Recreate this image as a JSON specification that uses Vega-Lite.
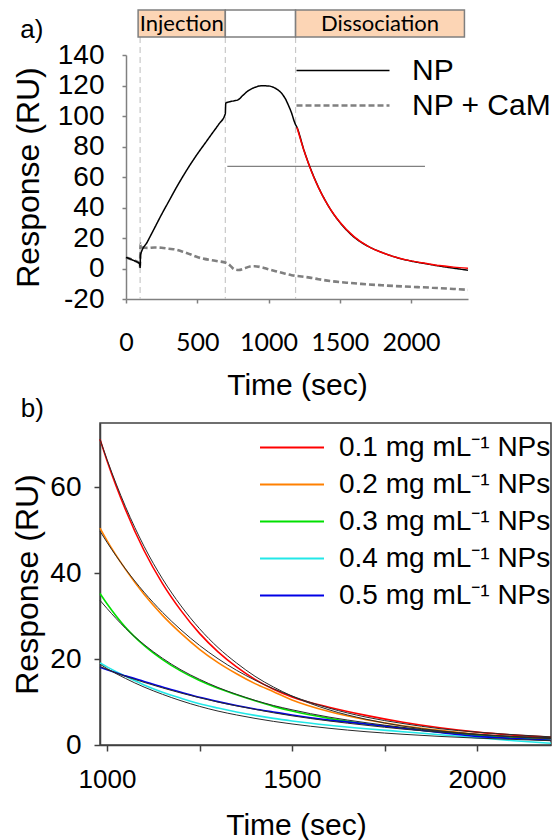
{
  "$schema": "https://vega.github.io/schema/vega-lite/v6.json",
  "background": "white",
  "padding": {"left": 11, "top": 9, "right": 0, "bottom": 0},
  "config": {
    "font": "Liberation Sans",
    "view": {"stroke": null},
    "axis": {"grid": false, "labelColor": "#000000", "titleColor": "#000000", "titleFontWeight": "normal", "labelFont": "Liberation Sans", "titleFont": "Liberation Sans", "labelOverlap": false, "labelFlush": false},
    "legend": {"labelFont": "Liberation Sans", "labelColor": "#000000", "padding": 0, "labelLimit": 0}
  },
  "datasets": {
    "phases": [
      {"label": "Injection", "start": 85, "end": 697},
      {"label": "", "start": 697, "end": 1190},
      {"label": "Dissociation", "start": 1190, "end": 2375}
    ],
    "events": [{"t": 99}, {"t": 697}, {"t": 1190}],
    "baseline": [{"t1": 711, "t2": 2098, "v": 67}],
    "sensor": [
      {"s": "NP + CaM", "t": 0, "v": 7.2}, {"s": "NP + CaM", "t": 50, "v": 5.5}, {"s": "NP + CaM", "t": 95, "v": 3.3}, {"s": "NP + CaM", "t": 98, "v": 1},
      {"s": "NP + CaM", "t": 102, "v": 16.3}, {"s": "NP + CaM", "t": 115, "v": 14}, {"s": "NP + CaM", "t": 150, "v": 13.5}, {"s": "NP + CaM", "t": 200, "v": 13.8},
      {"s": "NP + CaM", "t": 250, "v": 13.6}, {"s": "NP + CaM", "t": 300, "v": 13}, {"s": "NP + CaM", "t": 350, "v": 12.4}, {"s": "NP + CaM", "t": 400, "v": 11},
      {"s": "NP + CaM", "t": 450, "v": 9.3}, {"s": "NP + CaM", "t": 500, "v": 7.5}, {"s": "NP + CaM", "t": 550, "v": 6.3}, {"s": "NP + CaM", "t": 600, "v": 5.5},
      {"s": "NP + CaM", "t": 650, "v": 4.7}, {"s": "NP + CaM", "t": 700, "v": 3.8}, {"s": "NP + CaM", "t": 730, "v": 2}, {"s": "NP + CaM", "t": 760, "v": -0.5},
      {"s": "NP + CaM", "t": 790, "v": -1}, {"s": "NP + CaM", "t": 830, "v": 0}, {"s": "NP + CaM", "t": 870, "v": 1.3}, {"s": "NP + CaM", "t": 903, "v": 1.5},
      {"s": "NP + CaM", "t": 950, "v": 0.8}, {"s": "NP + CaM", "t": 1000, "v": -0.5}, {"s": "NP + CaM", "t": 1050, "v": -1.8}, {"s": "NP + CaM", "t": 1100, "v": -3},
      {"s": "NP + CaM", "t": 1162, "v": -4.4}, {"s": "NP + CaM", "t": 1230, "v": -5.2}, {"s": "NP + CaM", "t": 1290, "v": -6}, {"s": "NP + CaM", "t": 1350, "v": -7},
      {"s": "NP + CaM", "t": 1443, "v": -8.3}, {"s": "NP + CaM", "t": 1550, "v": -9.3}, {"s": "NP + CaM", "t": 1650, "v": -10.1}, {"s": "NP + CaM", "t": 1795, "v": -11},
      {"s": "NP + CaM", "t": 1950, "v": -11.8}, {"s": "NP + CaM", "t": 2147, "v": -12.6}, {"s": "NP + CaM", "t": 2300, "v": -13.4}, {"s": "NP + CaM", "t": 2400, "v": -14},
      {"s": "NP", "t": 0, "v": 7.3}, {"s": "NP", "t": 50, "v": 5.4}, {"s": "NP", "t": 95, "v": 3.2}, {"s": "NP", "t": 99, "v": 0.8},
      {"s": "NP", "t": 102, "v": 9}, {"s": "NP", "t": 150, "v": 17.5}, {"s": "NP", "t": 200, "v": 26.5}, {"s": "NP", "t": 250, "v": 35.5},
      {"s": "NP", "t": 300, "v": 44}, {"s": "NP", "t": 350, "v": 52.5}, {"s": "NP", "t": 400, "v": 60.5}, {"s": "NP", "t": 450, "v": 68},
      {"s": "NP", "t": 500, "v": 75}, {"s": "NP", "t": 550, "v": 81.5}, {"s": "NP", "t": 600, "v": 88}, {"s": "NP", "t": 650, "v": 94.5},
      {"s": "NP", "t": 697, "v": 101.5}, {"s": "NP", "t": 700, "v": 108.5}, {"s": "NP", "t": 730, "v": 109.4}, {"s": "NP", "t": 760, "v": 110},
      {"s": "NP", "t": 786, "v": 110.6}, {"s": "NP", "t": 820, "v": 113.5}, {"s": "NP", "t": 857, "v": 116.5}, {"s": "NP", "t": 900, "v": 118.6},
      {"s": "NP", "t": 950, "v": 119.8}, {"s": "NP", "t": 1000, "v": 119.7}, {"s": "NP", "t": 1030, "v": 119}, {"s": "NP", "t": 1060, "v": 117.5},
      {"s": "NP", "t": 1091, "v": 115}, {"s": "NP", "t": 1120, "v": 111}, {"s": "NP", "t": 1140, "v": 107}, {"s": "NP", "t": 1160, "v": 102.5},
      {"s": "NP", "t": 1185, "v": 95.4}, {"s": "NP", "t": 1200, "v": 92.5}, {"s": "NP", "t": 1250, "v": 77.2}, {"s": "NP", "t": 1300, "v": 64.3},
      {"s": "NP", "t": 1350, "v": 53.4}, {"s": "NP", "t": 1400, "v": 44.3}, {"s": "NP", "t": 1450, "v": 36.6}, {"s": "NP", "t": 1500, "v": 30.3},
      {"s": "NP", "t": 1600, "v": 20.6}, {"s": "NP", "t": 1700, "v": 14.5}, {"s": "NP", "t": 1800, "v": 10.4}, {"s": "NP", "t": 1900, "v": 7.2},
      {"s": "NP", "t": 2000, "v": 4.9}, {"s": "NP", "t": 2100, "v": 3.2}, {"s": "NP", "t": 2200, "v": 1.6}, {"s": "NP", "t": 2300, "v": 0.2},
      {"s": "NP", "t": 2400, "v": -1.1}
    ],
    "npfit": [
      {"t": 1200, "v": 92.5}, {"t": 1250, "v": 77.0}, {"t": 1300, "v": 64.0}, {"t": 1350, "v": 53.2}, {"t": 1400, "v": 44.2},
      {"t": 1450, "v": 36.7}, {"t": 1500, "v": 30.5}, {"t": 1600, "v": 20.9}, {"t": 1700, "v": 14.5}, {"t": 1800, "v": 10.3},
      {"t": 1900, "v": 7.2}, {"t": 2000, "v": 5.0}, {"t": 2100, "v": 3.4}, {"t": 2200, "v": 1.9}, {"t": 2300, "v": 0.9}, {"t": 2400, "v": 0.1}
    ],
    "decay": [
      {"conc": "0.1 mg mL⁻¹ NPs", "t": 981, "v": 71.2}, {"conc": "0.1 mg mL⁻¹ NPs", "t": 1000, "v": 66.2}, {"conc": "0.1 mg mL⁻¹ NPs", "t": 1050, "v": 54.8}, {"conc": "0.1 mg mL⁻¹ NPs", "t": 1100, "v": 45.3},
      {"conc": "0.1 mg mL⁻¹ NPs", "t": 1150, "v": 37.6}, {"conc": "0.1 mg mL⁻¹ NPs", "t": 1200, "v": 31.3}, {"conc": "0.1 mg mL⁻¹ NPs", "t": 1250, "v": 26.0}, {"conc": "0.1 mg mL⁻¹ NPs", "t": 1300, "v": 21.7},
      {"conc": "0.1 mg mL⁻¹ NPs", "t": 1350, "v": 18.2}, {"conc": "0.1 mg mL⁻¹ NPs", "t": 1400, "v": 15.3}, {"conc": "0.1 mg mL⁻¹ NPs", "t": 1450, "v": 13.0}, {"conc": "0.1 mg mL⁻¹ NPs", "t": 1500, "v": 11.2},
      {"conc": "0.1 mg mL⁻¹ NPs", "t": 1600, "v": 8.8}, {"conc": "0.1 mg mL⁻¹ NPs", "t": 1700, "v": 6.9}, {"conc": "0.1 mg mL⁻¹ NPs", "t": 1800, "v": 5.3}, {"conc": "0.1 mg mL⁻¹ NPs", "t": 1900, "v": 4.0},
      {"conc": "0.1 mg mL⁻¹ NPs", "t": 2000, "v": 3.0}, {"conc": "0.1 mg mL⁻¹ NPs", "t": 2100, "v": 2.3}, {"conc": "0.1 mg mL⁻¹ NPs", "t": 2200, "v": 1.8},
      {"conc": "0.2 mg mL⁻¹ NPs", "t": 981, "v": 50.5}, {"conc": "0.2 mg mL⁻¹ NPs", "t": 1000, "v": 47.6}, {"conc": "0.2 mg mL⁻¹ NPs", "t": 1050, "v": 40.9}, {"conc": "0.2 mg mL⁻¹ NPs", "t": 1100, "v": 35.1},
      {"conc": "0.2 mg mL⁻¹ NPs", "t": 1150, "v": 30.2}, {"conc": "0.2 mg mL⁻¹ NPs", "t": 1200, "v": 26.0}, {"conc": "0.2 mg mL⁻¹ NPs", "t": 1250, "v": 22.3}, {"conc": "0.2 mg mL⁻¹ NPs", "t": 1300, "v": 19.2},
      {"conc": "0.2 mg mL⁻¹ NPs", "t": 1350, "v": 16.6}, {"conc": "0.2 mg mL⁻¹ NPs", "t": 1400, "v": 14.3}, {"conc": "0.2 mg mL⁻¹ NPs", "t": 1450, "v": 12.4}, {"conc": "0.2 mg mL⁻¹ NPs", "t": 1500, "v": 10.5},
      {"conc": "0.2 mg mL⁻¹ NPs", "t": 1600, "v": 7.8}, {"conc": "0.2 mg mL⁻¹ NPs", "t": 1700, "v": 5.9}, {"conc": "0.2 mg mL⁻¹ NPs", "t": 1800, "v": 4.5}, {"conc": "0.2 mg mL⁻¹ NPs", "t": 1900, "v": 3.4},
      {"conc": "0.2 mg mL⁻¹ NPs", "t": 2000, "v": 2.5}, {"conc": "0.2 mg mL⁻¹ NPs", "t": 2100, "v": 1.8}, {"conc": "0.2 mg mL⁻¹ NPs", "t": 2200, "v": 1.3},
      {"conc": "0.3 mg mL⁻¹ NPs", "t": 981, "v": 35.3}, {"conc": "0.3 mg mL⁻¹ NPs", "t": 1000, "v": 32.9}, {"conc": "0.3 mg mL⁻¹ NPs", "t": 1050, "v": 27.4}, {"conc": "0.3 mg mL⁻¹ NPs", "t": 1100, "v": 23.2},
      {"conc": "0.3 mg mL⁻¹ NPs", "t": 1150, "v": 19.9}, {"conc": "0.3 mg mL⁻¹ NPs", "t": 1200, "v": 17.2}, {"conc": "0.3 mg mL⁻¹ NPs", "t": 1250, "v": 15.0}, {"conc": "0.3 mg mL⁻¹ NPs", "t": 1300, "v": 13.2},
      {"conc": "0.3 mg mL⁻¹ NPs", "t": 1350, "v": 11.7}, {"conc": "0.3 mg mL⁻¹ NPs", "t": 1400, "v": 10.3}, {"conc": "0.3 mg mL⁻¹ NPs", "t": 1450, "v": 9.0}, {"conc": "0.3 mg mL⁻¹ NPs", "t": 1500, "v": 7.9},
      {"conc": "0.3 mg mL⁻¹ NPs", "t": 1600, "v": 6.2}, {"conc": "0.3 mg mL⁻¹ NPs", "t": 1700, "v": 4.9}, {"conc": "0.3 mg mL⁻¹ NPs", "t": 1800, "v": 3.9}, {"conc": "0.3 mg mL⁻¹ NPs", "t": 1900, "v": 3.0},
      {"conc": "0.3 mg mL⁻¹ NPs", "t": 2000, "v": 2.2}, {"conc": "0.3 mg mL⁻¹ NPs", "t": 2100, "v": 1.6}, {"conc": "0.3 mg mL⁻¹ NPs", "t": 2200, "v": 1.1},
      {"conc": "0.4 mg mL⁻¹ NPs", "t": 981, "v": 19.1}, {"conc": "0.4 mg mL⁻¹ NPs", "t": 1000, "v": 18.2}, {"conc": "0.4 mg mL⁻¹ NPs", "t": 1050, "v": 16.0}, {"conc": "0.4 mg mL⁻¹ NPs", "t": 1100, "v": 14.0},
      {"conc": "0.4 mg mL⁻¹ NPs", "t": 1150, "v": 12.3}, {"conc": "0.4 mg mL⁻¹ NPs", "t": 1200, "v": 10.9}, {"conc": "0.4 mg mL⁻¹ NPs", "t": 1250, "v": 9.6}, {"conc": "0.4 mg mL⁻¹ NPs", "t": 1300, "v": 8.6},
      {"conc": "0.4 mg mL⁻¹ NPs", "t": 1350, "v": 7.7}, {"conc": "0.4 mg mL⁻¹ NPs", "t": 1400, "v": 6.9}, {"conc": "0.4 mg mL⁻¹ NPs", "t": 1450, "v": 6.2}, {"conc": "0.4 mg mL⁻¹ NPs", "t": 1500, "v": 5.6},
      {"conc": "0.4 mg mL⁻¹ NPs", "t": 1600, "v": 4.6}, {"conc": "0.4 mg mL⁻¹ NPs", "t": 1700, "v": 3.8}, {"conc": "0.4 mg mL⁻¹ NPs", "t": 1800, "v": 3.1}, {"conc": "0.4 mg mL⁻¹ NPs", "t": 1900, "v": 2.4},
      {"conc": "0.4 mg mL⁻¹ NPs", "t": 2000, "v": 1.7}, {"conc": "0.4 mg mL⁻¹ NPs", "t": 2100, "v": 1.0}, {"conc": "0.4 mg mL⁻¹ NPs", "t": 2200, "v": 0.4},
      {"conc": "0.5 mg mL⁻¹ NPs", "t": 981, "v": 18.1}, {"conc": "0.5 mg mL⁻¹ NPs", "t": 1000, "v": 17.5}, {"conc": "0.5 mg mL⁻¹ NPs", "t": 1050, "v": 16.1}, {"conc": "0.5 mg mL⁻¹ NPs", "t": 1100, "v": 14.8},
      {"conc": "0.5 mg mL⁻¹ NPs", "t": 1150, "v": 13.5}, {"conc": "0.5 mg mL⁻¹ NPs", "t": 1200, "v": 12.3}, {"conc": "0.5 mg mL⁻¹ NPs", "t": 1250, "v": 11.1}, {"conc": "0.5 mg mL⁻¹ NPs", "t": 1300, "v": 10.1},
      {"conc": "0.5 mg mL⁻¹ NPs", "t": 1350, "v": 9.2}, {"conc": "0.5 mg mL⁻¹ NPs", "t": 1400, "v": 8.4}, {"conc": "0.5 mg mL⁻¹ NPs", "t": 1450, "v": 7.7}, {"conc": "0.5 mg mL⁻¹ NPs", "t": 1500, "v": 7.0},
      {"conc": "0.5 mg mL⁻¹ NPs", "t": 1600, "v": 5.8}, {"conc": "0.5 mg mL⁻¹ NPs", "t": 1700, "v": 4.9}, {"conc": "0.5 mg mL⁻¹ NPs", "t": 1800, "v": 3.9}, {"conc": "0.5 mg mL⁻¹ NPs", "t": 1900, "v": 2.9},
      {"conc": "0.5 mg mL⁻¹ NPs", "t": 2000, "v": 2.0}, {"conc": "0.5 mg mL⁻¹ NPs", "t": 2100, "v": 1.5}, {"conc": "0.5 mg mL⁻¹ NPs", "t": 2200, "v": 1.1}
    ],
    "fits": [
      {"conc": "0.1", "t": 981, "v": 71.2}, {"conc": "0.1", "t": 1000, "v": 66.5}, {"conc": "0.1", "t": 1050, "v": 55.5}, {"conc": "0.1", "t": 1100, "v": 46.3},
      {"conc": "0.1", "t": 1150, "v": 38.7}, {"conc": "0.1", "t": 1200, "v": 32.4}, {"conc": "0.1", "t": 1250, "v": 27.1}, {"conc": "0.1", "t": 1300, "v": 22.7},
      {"conc": "0.1", "t": 1350, "v": 19.1}, {"conc": "0.1", "t": 1400, "v": 16.0}, {"conc": "0.1", "t": 1450, "v": 13.5}, {"conc": "0.1", "t": 1500, "v": 11.4},
      {"conc": "0.1", "t": 1600, "v": 8.2}, {"conc": "0.1", "t": 1700, "v": 6.0}, {"conc": "0.1", "t": 1800, "v": 4.4}, {"conc": "0.1", "t": 1900, "v": 3.3},
      {"conc": "0.1", "t": 2000, "v": 2.5}, {"conc": "0.1", "t": 2100, "v": 2.0}, {"conc": "0.1", "t": 2200, "v": 1.7},
      {"conc": "0.2", "t": 981, "v": 49.8}, {"conc": "0.2", "t": 1000, "v": 47.2}, {"conc": "0.2", "t": 1050, "v": 41.0}, {"conc": "0.2", "t": 1100, "v": 35.6},
      {"conc": "0.2", "t": 1150, "v": 30.9}, {"conc": "0.2", "t": 1200, "v": 26.8}, {"conc": "0.2", "t": 1250, "v": 23.2}, {"conc": "0.2", "t": 1300, "v": 20.1},
      {"conc": "0.2", "t": 1350, "v": 17.4}, {"conc": "0.2", "t": 1400, "v": 15.1}, {"conc": "0.2", "t": 1450, "v": 13.1}, {"conc": "0.2", "t": 1500, "v": 11.4},
      {"conc": "0.2", "t": 1600, "v": 8.6}, {"conc": "0.2", "t": 1700, "v": 6.5}, {"conc": "0.2", "t": 1800, "v": 5.0}, {"conc": "0.2", "t": 1900, "v": 3.8},
      {"conc": "0.2", "t": 2000, "v": 3.0}, {"conc": "0.2", "t": 2100, "v": 2.4}, {"conc": "0.2", "t": 2200, "v": 1.9},
      {"conc": "0.3", "t": 981, "v": 33.7}, {"conc": "0.3", "t": 1000, "v": 31.8}, {"conc": "0.3", "t": 1050, "v": 27.2}, {"conc": "0.3", "t": 1100, "v": 23.4},
      {"conc": "0.3", "t": 1150, "v": 20.2}, {"conc": "0.3", "t": 1200, "v": 17.5}, {"conc": "0.3", "t": 1250, "v": 15.3}, {"conc": "0.3", "t": 1300, "v": 13.4},
      {"conc": "0.3", "t": 1350, "v": 11.8}, {"conc": "0.3", "t": 1400, "v": 10.4}, {"conc": "0.3", "t": 1450, "v": 9.2}, {"conc": "0.3", "t": 1500, "v": 8.2},
      {"conc": "0.3", "t": 1600, "v": 6.5}, {"conc": "0.3", "t": 1700, "v": 5.2}, {"conc": "0.3", "t": 1800, "v": 4.1}, {"conc": "0.3", "t": 1900, "v": 3.2},
      {"conc": "0.3", "t": 2000, "v": 2.5}, {"conc": "0.3", "t": 2100, "v": 1.9}, {"conc": "0.3", "t": 2200, "v": 1.5},
      {"conc": "0.4", "t": 981, "v": 18.8}, {"conc": "0.4", "t": 1000, "v": 17.8}, {"conc": "0.4", "t": 1050, "v": 15.5}, {"conc": "0.4", "t": 1100, "v": 13.5},
      {"conc": "0.4", "t": 1150, "v": 11.8}, {"conc": "0.4", "t": 1200, "v": 10.3}, {"conc": "0.4", "t": 1250, "v": 9.0}, {"conc": "0.4", "t": 1300, "v": 7.9},
      {"conc": "0.4", "t": 1350, "v": 7.0}, {"conc": "0.4", "t": 1400, "v": 6.2}, {"conc": "0.4", "t": 1450, "v": 5.5}, {"conc": "0.4", "t": 1500, "v": 4.9},
      {"conc": "0.4", "t": 1600, "v": 3.9}, {"conc": "0.4", "t": 1700, "v": 3.1}, {"conc": "0.4", "t": 1800, "v": 2.5}, {"conc": "0.4", "t": 1900, "v": 2.0},
      {"conc": "0.4", "t": 2000, "v": 1.6}, {"conc": "0.4", "t": 2100, "v": 1.3}, {"conc": "0.4", "t": 2200, "v": 1.0},
      {"conc": "0.5", "t": 981, "v": 18.3}, {"conc": "0.5", "t": 1000, "v": 17.6}, {"conc": "0.5", "t": 1050, "v": 16.0}, {"conc": "0.5", "t": 1100, "v": 14.6},
      {"conc": "0.5", "t": 1150, "v": 13.3}, {"conc": "0.5", "t": 1200, "v": 12.1}, {"conc": "0.5", "t": 1250, "v": 11.0}, {"conc": "0.5", "t": 1300, "v": 10.0},
      {"conc": "0.5", "t": 1350, "v": 9.1}, {"conc": "0.5", "t": 1400, "v": 8.3}, {"conc": "0.5", "t": 1450, "v": 7.5}, {"conc": "0.5", "t": 1500, "v": 6.8},
      {"conc": "0.5", "t": 1600, "v": 5.6}, {"conc": "0.5", "t": 1700, "v": 4.6}, {"conc": "0.5", "t": 1800, "v": 3.7}, {"conc": "0.5", "t": 1900, "v": 3.0},
      {"conc": "0.5", "t": 2000, "v": 2.4}, {"conc": "0.5", "t": 2100, "v": 1.9}, {"conc": "0.5", "t": 2200, "v": 1.5}
    ]
  },
  "columns": 1,
  "bounds": "full",
  "spacing": -5,
  "resolve": {
    "scale": {"color": "independent", "strokeDash": "independent", "strokeWidth": "independent", "fill": "independent"},
    "legend": {"color": "independent", "strokeDash": "independent"}
  },
  "concat": [
    {
      "width": 368,
      "height": 244,
      "view": {"stroke": null},
      "title": {"text": "a)", "anchor": "start", "frame": "bounds", "fontSize": 26, "fontWeight": "normal", "font": "Liberation Sans", "baseline": "alphabetic", "offset": -55, "dx": 8, "color": "#000000"},
      "layer": [
        {
          "data": {"name": "events"},
          "mark": {"type": "rule", "color": "#c8c8c8", "strokeWidth": 1.2, "strokeDash": [6, 4], "clip": false},
          "encoding": {
            "x": {"field": "t", "type": "quantitative", "scale": {"domain": [0, 2400], "range": [26, 368], "nice": false, "zero": false}},
            "y": {"datum": 151.8, "type": "quantitative", "scale": {"domain": [-20, 140], "nice": false, "zero": false}},
            "y2": {"datum": -20}
          }
        },
        {
          "data": {"name": "phases"},
          "mark": {"type": "rect", "stroke": "#7f7f7f", "strokeWidth": 1.5, "clip": false},
          "encoding": {
            "x": {"field": "start", "type": "quantitative", "scale": {"domain": [0, 2400], "range": [26, 368], "nice": false, "zero": false}},
            "x2": {"field": "end"},
            "y": {"datum": 169.5, "type": "quantitative", "scale": {"domain": [-20, 140], "nice": false, "zero": false}},
            "y2": {"datum": 151.8},
            "fill": {"field": "label", "type": "nominal", "scale": {"domain": ["Injection", "", "Dissociation"], "range": ["#fcd5b5", "#ffffff", "#fcd5b5"]}, "legend": null}
          }
        },
        {
          "data": {"name": "phases"},
          "transform": [{"calculate": "(datum.start + datum.end) / 2", "as": "mid"}],
          "mark": {"type": "text", "font": "Lato", "fontSize": 22, "color": "#000000", "baseline": "middle", "align": "center", "clip": false},
          "encoding": {
            "x": {"field": "mid", "type": "quantitative", "scale": {"domain": [0, 2400], "range": [26, 368], "nice": false, "zero": false}},
            "y": {"datum": 160.4, "type": "quantitative", "scale": {"domain": [-20, 140], "nice": false, "zero": false}},
            "text": {"field": "label"}
          }
        },
        {
          "data": {"name": "baseline"},
          "mark": {"type": "rule", "color": "#808080", "strokeWidth": 1.2},
          "encoding": {
            "x": {"field": "t1", "type": "quantitative", "scale": {"domain": [0, 2400], "range": [26, 368], "nice": false, "zero": false}},
            "x2": {"field": "t2"},
            "y": {"field": "v", "type": "quantitative", "scale": {"domain": [-20, 140], "nice": false, "zero": false}}
          }
        },
        {
          "data": {"name": "sensor"},
          "mark": {"type": "line", "interpolate": "monotone"},
          "encoding": {
            "x": {"field": "t", "type": "quantitative", "scale": {"domain": [0, 2400], "range": [26, 368], "nice": false, "zero": false},
              "axis": {"title": "Time (sec)", "values": [0, 500, 1000, 1500, 2000], "tickCount": 20, "format": "d", "labelOverlap": false, "labelFont": "Lato", "labelFontSize": 25, "labelPadding": 27, "tickSize": 4, "domainColor": "#808080", "tickColor": "#808080", "domainWidth": 1.5, "tickWidth": 1.5, "titleFontSize": 30, "titlePadding": 15}},
            "y": {"field": "v", "type": "quantitative", "scale": {"domain": [-20, 140], "nice": false, "zero": false},
              "axis": {"title": "Response (RU)", "offset": -26, "values": [-20, 0, 20, 40, 60, 80, 100, 120, 140], "tickCount": 20, "labelOverlap": false, "labelExpr": "'' + datum.value", "labelFontSize": 28, "labelPadding": 18, "tickSize": 4, "domainColor": "#808080", "tickColor": "#808080", "domainWidth": 1.5, "tickWidth": 1.5, "titleFontSize": 32, "titlePadding": 12}},
            "color": {"field": "s", "type": "nominal", "sort": ["NP", "NP + CaM"], "scale": {"domain": ["NP", "NP + CaM"], "range": ["#000000", "#808080"]},
              "legend": {"orient": "none", "legendX": 195, "legendY": -2, "title": null, "symbolType": "stroke", "symbolSize": 8649, "symbolStrokeWidth": 2, "clipHeight": 35, "rowPadding": 0, "labelFontSize": 30, "labelOffset": 21, "padding": 0}},
            "strokeDash": {"field": "s", "type": "nominal", "sort": ["NP", "NP + CaM"], "scale": {"domain": ["NP", "NP + CaM"], "range": [[1, 0], [6, 3]]},
              "legend": {"orient": "none", "legendX": 195, "legendY": -2, "title": null, "symbolType": "stroke", "symbolSize": 8649, "symbolStrokeWidth": 2, "clipHeight": 35, "rowPadding": 0, "labelFontSize": 30, "labelOffset": 21, "padding": 0}},
            "strokeWidth": {"field": "s", "type": "nominal", "scale": {"domain": ["NP", "NP + CaM"], "range": [1.5, 2.6]}, "legend": null},
            "order": {"field": "t", "type": "quantitative"}
          }
        },
        {
          "data": {"name": "npfit"},
          "mark": {"type": "line", "color": "#ff0000", "strokeWidth": 1.5, "interpolate": "monotone"},
          "encoding": {
            "x": {"field": "t", "type": "quantitative", "scale": {"domain": [0, 2400], "range": [26, 368], "nice": false, "zero": false}},
            "y": {"field": "v", "type": "quantitative", "scale": {"domain": [-20, 140], "nice": false, "zero": false}}
          }
        }
      ]
    },
    {
      "width": 451,
      "height": 322,
      "view": {"stroke": "#404040", "strokeWidth": 1.5},
      "title": {"text": "b)", "anchor": "start", "frame": "bounds", "fontSize": 26, "fontWeight": "normal", "font": "Liberation Sans", "baseline": "alphabetic", "offset": -20, "dx": 9, "color": "#000000"},
      "encoding": {
        "x": {"field": "t", "type": "quantitative", "scale": {"domain": [981, 2200], "nice": false, "zero": false},
          "axis": {"title": "Time (sec)", "values": [1000, 1250, 1500, 1750, 2000], "tickCount": 20, "format": "d", "labelOverlap": false, "labelExpr": "datum.value % 500 === 0 ? datum.label : ''", "labelFontSize": 26, "labelPadding": 15, "tickSize": 6, "domainColor": "#404040", "tickColor": "#404040", "domainWidth": 1.5, "tickWidth": 1.5, "titleFontSize": 30, "titlePadding": 18, "titleX": 196}},
        "y": {"field": "v", "type": "quantitative", "scale": {"domain": [0, 75], "nice": false, "zero": false},
          "axis": {"title": "Response (RU)", "values": [0, 20, 40, 60], "tickCount": 20, "labelOverlap": false, "labelFontSize": 28, "labelPadding": 13, "tickSize": 6, "domainColor": "#404040", "tickColor": "#404040", "domainWidth": 1.5, "tickWidth": 1.5, "titleFontSize": 32, "titlePadding": 5}}
      },
      "layer": [
        {
          "data": {"name": "decay"},
          "mark": {"type": "line", "strokeWidth": 1.6, "interpolate": "monotone"},
          "encoding": {
            "color": {"field": "conc", "type": "nominal",
              "scale": {"domain": ["0.1 mg mL⁻¹ NPs", "0.2 mg mL⁻¹ NPs", "0.3 mg mL⁻¹ NPs", "0.4 mg mL⁻¹ NPs", "0.5 mg mL⁻¹ NPs"], "range": ["#ff0000", "#ff8000", "#00e000", "#22e8e8", "#0000e6"]},
              "legend": {"orient": "none", "legendX": 159, "legendY": 6, "title": null, "symbolType": "stroke", "symbolSize": 4096, "symbolStrokeWidth": 2, "clipHeight": 37, "rowPadding": 0, "labelFontSize": 28, "labelOffset": 14, "padding": 0}},
            "order": {"field": "t", "type": "quantitative"}
          }
        },
        {
          "data": {"name": "fits"},
          "mark": {"type": "line", "strokeWidth": 1, "color": "#2a2a2a", "interpolate": "monotone"},
          "encoding": {"detail": {"field": "conc", "type": "nominal"}, "order": {"field": "t", "type": "quantitative"}}
        }
      ]
    }
  ]
}
